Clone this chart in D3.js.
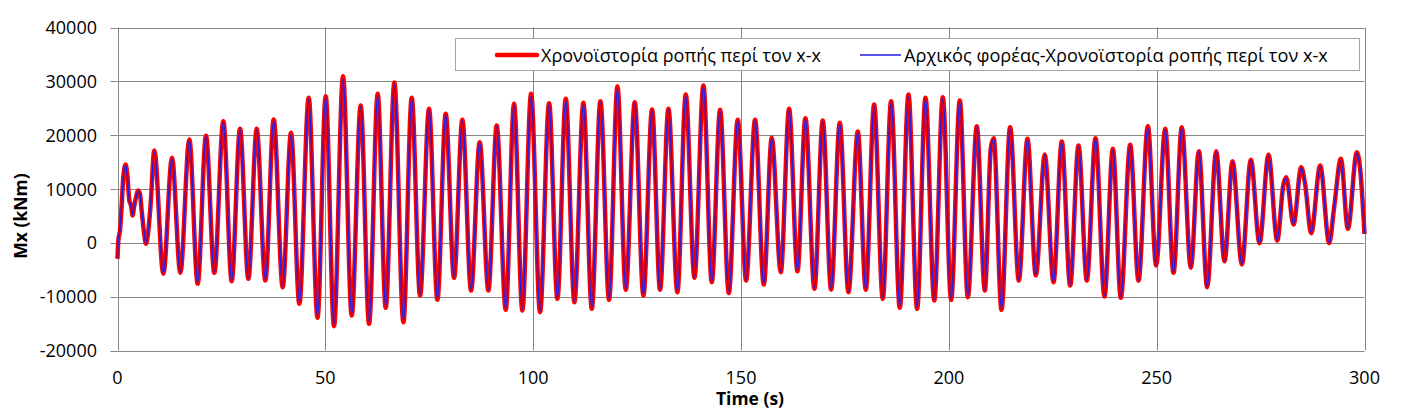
<!DOCTYPE html>
<html>
<head>
<meta charset="utf-8">
<script src="https://cdn.jsdelivr.net/npm/d3@7"></script>
<style>
  html, body { margin: 0; padding: 0; background: #fff; }
  svg { display: block; }
  text { font-family: "Open Sans", "Noto Sans", sans-serif; fill: #000; }
</style>
</head>
<body>
<svg id="chart" width="1409" height="413"></svg>
<script>
// ---- data ----
const times = [0, 0.2, 0.6, 1.0, 1.4, 1.96, 2.37, 2.85, 3.25, 3.65, 3.97, 4.45, 4.93, 5.41, 5.81, 6.37, 6.86, 7.42, 7.98, 8.86,
  11.03, 13.11, 15.12, 17.28, 19.29, 21.29, 23.3, 25.46, 27.47, 29.48, 31.48, 33.49, 35.57, 37.58, 39.74, 41.75, 43.75, 46.0, 48.12, 50.09,
  52.09, 54.26, 56.34, 58.51, 60.52, 62.6, 64.53, 66.61, 68.78, 70.78, 72.79, 74.95, 76.96, 78.96, 80.97, 82.97, 85.06, 87.14, 89.23, 91.23,
  93.4, 95.4, 97.4, 99.5, 101.66, 103.83, 105.83, 107.84, 109.92, 112.09, 114.1, 116.18, 118.26, 120.27, 122.28, 124.44, 126.52, 128.61, 130.53, 132.54,
  134.7, 136.71, 138.8, 140.96, 142.97, 144.97, 147.06, 149.22, 151.23, 153.39, 155.48, 157.4, 159.57, 161.57, 163.58, 165.5, 167.67, 169.67, 171.68, 173.77,
  175.85, 178.1, 180.02, 182.03, 184.11, 186.12, 188.2, 190.29, 192.37, 194.38, 196.5, 198.55, 200.55, 202.64, 204.57, 206.73, 208.66, 210.1, 210.8, 212.67,
  214.75, 216.84, 218.92, 220.93, 223.09, 225.18, 227.18, 229.19, 231.2, 233.2, 235.29, 237.45, 239.46, 241.38, 243.63, 245.63, 247.88, 249.88, 252.05, 254.05,
  256.05, 258.22, 260.15, 262.15, 264.32, 266.32, 268.25, 270.5, 272.66, 274.74, 276.91, 279.0, 280.5, 281.17, 282.93, 284.77, 285.7, 287.18, 289.34, 291.51,
  292.7, 294.32, 296.0, 298.16, 298.95, 300];

const momentRed = [-2970, 430, 2300, 6940, 12200, 14550, 12500, 7860, 6940, 5080, 6620, 8480, 9720, 9100, 6000, 1980, -190, 2290, 7240, 17150,
  -5760, 15790, -5570, 19200, -7620, 19880, -5570, 22600, -7120, 21180, -6690, 21180, -7000, 22900, -8240, 20430, -11330, 26940, -13900, 27250,
  -15480, 30960, -13500, 25510, -15050, 27680, -12070, 29780, -14740, 26940, -9780, 24890, -10590, 23960, -6500, 22850, -8850, 18700, -8850, 21800,
  -12450, 25820, -12570, 27680, -12880, 25940, -10400, 26750, -11020, 26000, -12260, 26320, -10590, 29040, -8730, 26130, -9780, 24770, -8730, 24890,
  -9160, 27550, -6500, 29230, -7310, 24710, -9320, 22850, -7000, 22850, -7740, 19500, -5450, 24890, -5260, 23160, -8540, 22720, -8670, 22290,
  -9160, 20680, -8730, 25700, -10400, 26320, -12070, 27550, -12260, 26940, -10710, 27060, -10590, 26440, -10090, 21670, -8850, 17600, 19440, -12450,
  21490, -7000, 19320, -6070, 16410, -7310, 18820, -7930, 18080, -7000, 19440, -9970, 17460, -10220, 18200, -7000, 21670, -4210, 21180, -5570,
  21490, -4640, 17030, -8240, 17030, -3410, 15170, -4020, 15420, -60, 16350, 430, 10900, 12200, 3400, 14060, 11000, 1800, 14370, -60,
  6600, 15600, 2600, 16840, 13750, 1670];

const momentBlue = [-2800, 500, 2400, 7000, 12300, 14400, 12400, 7800, 6900, 5200, 6600, 8400, 9600, 9000, 6100, 2100, -100, 2300, 7100, 16900,
  -5600, 15600, -5400, 19000, -7400, 19700, -5400, 22400, -7000, 21000, -6500, 21000, -6800, 22700, -8000, 20200, -11000, 26600, -13600, 27000,
  -15100, 30400, -13200, 25300, -14700, 27400, -11800, 29400, -14400, 26700, -9600, 24700, -10400, 23800, -6400, 22700, -8700, 18600, -8700, 21600,
  -12200, 25600, -12300, 27300, -12600, 25700, -10200, 26500, -10800, 25800, -12000, 26100, -10400, 28600, -8600, 25900, -9600, 24600, -8600, 24700,
  -9000, 27300, -6400, 29000, -7200, 24500, -9100, 22700, -6900, 22700, -7600, 19400, -5300, 24600, -5100, 23000, -8400, 22500, -8500, 22100,
  -9000, 20500, -8600, 25400, -10200, 26100, -11800, 27200, -12000, 26700, -10500, 26800, -10400, 26200, -9900, 21500, -8700, 17500, 19300, -12200,
  21300, -6900, 19200, -5900, 16300, -7200, 18700, -7800, 17900, -6900, 19300, -9800, 17300, -10000, 18000, -6900, 21400, -4100, 21000, -5400,
  21300, -4500, 16900, -8100, 16900, -3300, 15000, -3900, 15300, 0, 16200, 500, 10800, 12000, 3500, 13900, 10900, 1900, 14200, 0,
  6600, 15400, 2700, 16600, 13600, 1700];

const xTicks = [0, 50, 100, 150, 200, 250, 300];
const yTicks = [-20000, -10000, 0, 10000, 20000, 30000, 40000];
const seriesNames = ["Χρονοϊστορία ροπής περί τον x-x", "Αρχικός φορέας-Χρονοϊστορία ροπής περί τον x-x"];
const xTitle = "Time (s)";
const yTitle = "Mx (kNm)";

// ---- drawing ----
const svg = d3.select("#chart");
const L = 117.5, R = 1364.5, T = 27.5, B = 350.5;
const x = d3.scaleLinear().domain([0, 300]).range([L, R]);
const y = d3.scaleLinear().domain([-20000, 40000]).range([B, T]);
const gridColor = "#868686";

// gridlines
svg.append("g").selectAll("line").data(yTicks).join("line")
  .attr("x1", L).attr("x2", R).attr("y1", d => Math.round(y(d)) + 0.5).attr("y2", d => Math.round(y(d)) + 0.5)
  .attr("stroke", gridColor).attr("stroke-width", 1);
svg.append("g").selectAll("line").data(xTicks).join("line")
  .attr("y1", T).attr("y2", B).attr("x1", d => Math.round(x(d)) + 0.5).attr("x2", d => Math.round(x(d)) + 0.5)
  .attr("stroke", gridColor).attr("stroke-width", 1);

// y axis ticks (outside)
svg.append("g").selectAll("line").data(yTicks).join("line")
  .attr("x1", L - 7).attr("x2", L).attr("y1", d => Math.round(y(d)) + 0.5).attr("y2", d => Math.round(y(d)) + 0.5)
  .attr("stroke", gridColor);

// tick labels
const tickSize = 18;
svg.append("g").selectAll("text").data(yTicks).join("text")
  .attr("x", 97).attr("y", d => y(d) + 6.5)
  .attr("text-anchor", "end").style("font-size", tickSize + "px")
  .text(d => d);
svg.append("g").selectAll("text").data(xTicks).join("text")
  .attr("x", d => x(d)).attr("y", 383.5)
  .attr("text-anchor", "middle").style("font-size", tickSize + "px")
  .text(d => d);

// axis titles
svg.append("text").attr("x", 750).attr("y", 405)
  .attr("text-anchor", "middle").style("font-size", "17.5px").style("font-weight", "bold")
  .text(xTitle);
svg.append("text").attr("transform", "translate(27,216) rotate(-90)")
  .attr("text-anchor", "middle").style("font-size", "17.5px").style("font-weight", "bold")
  .text(yTitle);

// lines
svg.append("clipPath").attr("id", "clip").append("rect")
  .attr("x", L - 3).attr("y", T - 5).attr("width", R - L + 6).attr("height", B - T + 10);
const line = vals => d3.line().x((d, i) => x(times[i])).y(d => y(d)).curve(d3.curveMonotoneX)(vals);
svg.append("path").attr("d", line(momentRed)).attr("fill", "none")
  .attr("stroke", "#ff0000").attr("stroke-width", 4.5).attr("stroke-linejoin", "round").attr("clip-path", "url(#clip)");
svg.append("path").attr("d", line(momentBlue)).attr("fill", "none")
  .attr("stroke", "#1e1ee6").attr("stroke-width", 1.5).attr("stroke-linejoin", "round").attr("clip-path", "url(#clip)");

// legend
const lg = svg.append("g");
lg.append("rect").attr("x", 455.5).attr("y", 38.5).attr("width", 904).attr("height", 32)
  .attr("fill", "#fff").attr("stroke", "#a6a6a6");
lg.append("line").attr("x1", 497).attr("x2", 537).attr("y1", 55).attr("y2", 55)
  .attr("stroke", "#ff0000").attr("stroke-width", 4.5).attr("stroke-linecap", "round");
lg.append("line").attr("x1", 860).attr("x2", 901).attr("y1", 55).attr("y2", 55)
  .attr("stroke", "#1e1ee6").attr("stroke-width", 1.5);

function fitText(sel, width, start) {
  let fs = start;
  sel.style("font-size", fs + "px");
  const w = sel.node().getComputedTextLength();
  fs = fs * width / w;
  sel.style("font-size", fs.toFixed(2) + "px");
}
const t1 = lg.append("text").attr("x", 541).attr("y", 61.5).text(seriesNames[0]);
fitText(t1, 280, 16);
const t2 = lg.append("text").attr("x", 904).attr("y", 61.5).text(seriesNames[1]);
fitText(t2, 424, 16);
</script>
</body>
</html>
